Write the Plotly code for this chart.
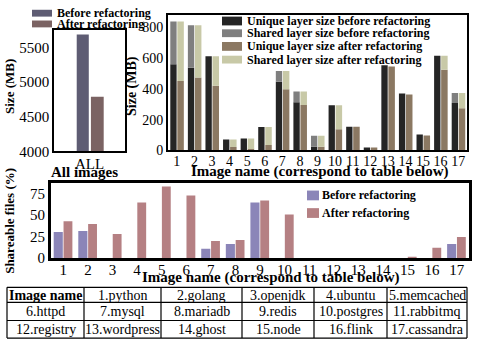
import plotly.graph_objects as go

W, H = 479, 351
FONT = "Liberation Serif, Times New Roman, serif"

# ---------------- data ----------------
all_cat = ["ALL"]
all_before = [5690]
all_after = [4790]

images = list(range(1, 18))
uniq_before = [559, 536, 610, 72, 78, 152, 445, 312, 25, 293, 154, 19, 553, 369, 103, 614, 308]
shared_before = [276, 276, 0, 0, 0, 0, 70, 70, 70, 0, 0, 0, 0, 0, 0, 0, 65]
uniq_after = [451, 473, 420, 23, 10, 36, 397, 295, 25, 137, 154, 19, 544, 363, 97, 523, 274]
shared_after = [384, 339, 190, 49, 68, 116, 118, 87, 70, 156, 0, 0, 0, 0, 0, 91, 99]

share_before = [30.5, 31.5, 0, 0, 0, 0, 10.8, 16.5, 65, 0, 0, 0, 0, 0, 0, 0, 16.5]
share_after = [43, 39.6, 28, 65, 83.5, 73, 20, 21, 67.3, 51, 0, 0, 0, 0, 0.8, 12, 24.6]

table_rows = [
    ["<b>Image name</b>", "1.python", "2.golang", "3.openjdk", "4.ubuntu", "5.memcached"],
    ["6.httpd", "7.mysql", "8.mariadb", "9.redis", "10.postgres", "11.rabbitmq"],
    ["12.registry", "13.wordpress", "14.ghost", "15.node", "16.flink", "17.cassandra"],
]

# ---------------- colours ----------------
C_ALL_B = "#5e5c73"
C_ALL_A = "#7b6363"
C_UB = "#252525"
C_SB = "#7f7f7f"
C_UA = "#8b7862"
C_SA = "#c8c9a7"
C_PB = "#8b85b8"
C_PA = "#b58083"


def px(x):
    return x / W


def py(y):
    return 1 - y / H


fig = go.Figure()

# top-left
fig.add_trace(go.Bar(x=all_cat, y=all_before, xaxis="x", yaxis="y", marker_color=C_ALL_B,
                     width=0.17, offset=-0.18, marker_line_width=0))
fig.add_trace(go.Bar(x=all_cat, y=all_after, xaxis="x", yaxis="y", marker_color=C_ALL_A,
                     width=0.18, offset=0.02, marker_line_width=0))

# top-right
fig.add_trace(go.Bar(x=images, y=uniq_before, xaxis="x2", yaxis="y2", marker_color=C_UB,
                     width=0.36, offset=-0.37, marker_line_width=0))
fig.add_trace(go.Bar(x=images, y=shared_before, base=uniq_before, xaxis="x2", yaxis="y2",
                     marker_color=C_SB, width=0.36, offset=-0.37, marker_line_width=0))
fig.add_trace(go.Bar(x=images, y=uniq_after, xaxis="x2", yaxis="y2", marker_color=C_UA,
                     width=0.37, offset=0.03, marker_line_width=0))
fig.add_trace(go.Bar(x=images, y=shared_after, base=uniq_after, xaxis="x2", yaxis="y2",
                     marker_color=C_SA, width=0.37, offset=0.03, marker_line_width=0))

# bottom
fig.add_trace(go.Bar(x=images, y=share_before, xaxis="x3", yaxis="y3", marker_color=C_PB,
                     width=0.37, offset=-0.39, marker_line_width=0))
fig.add_trace(go.Bar(x=images, y=share_after, xaxis="x3", yaxis="y3", marker_color=C_PA,
                     width=0.36, offset=0.01, marker_line_width=0))

tickfont = dict(family=FONT, size=15, color="black")
common = dict(showgrid=False, zeroline=False, showline=True, mirror=True, linecolor="black",
              ticks="", fixedrange=True)

fig.update_layout(
    width=W, height=H, margin=dict(l=0, r=0, t=0, b=0),
    paper_bgcolor="white", plot_bgcolor="white",
    barmode="overlay", showlegend=False,
    font=dict(family=FONT, color="black"),
    xaxis=dict(domain=[px(54), px(125)], range=[-0.5, 0.5], type="category",
               tickfont=tickfont, linewidth=1.5, anchor="y", ticklabelstandoff=-2, **common),
    yaxis=dict(domain=[py(155), py(31)], range=[4000, 5750], tickvals=[4000, 4500, 5000, 5500],
               tickfont=tickfont, linewidth=1.5, anchor="x", **common),
    xaxis2=dict(domain=[px(168), px(467)], range=[0.5, 17.5], tickvals=images,
                tickfont=dict(family=FONT, size=14, color="black"), linewidth=2, anchor="y2",
                ticklabelstandoff=-3, **common),
    yaxis2=dict(domain=[py(154), py(15)], range=[0, 880], tickvals=[0, 200, 400, 600, 800],
                tickfont=dict(family=FONT, size=14, color="black"), linewidth=2, anchor="x2", **common),
    xaxis3=dict(domain=[px(51), px(469)], range=[0.5, 17.5], tickvals=images,
                tickfont=tickfont, linewidth=3, anchor="y3", ticklabelstandoff=-4, **common),
    yaxis3=dict(domain=[py(264), py(187)], range=[0, 88], tickvals=[0, 25, 50, 75],
                tickfont=tickfont, linewidth=3, anchor="x3", **common),
)

annotations = []
shapes = []


def text(x, y, s, size, angle=0, xanchor="center"):
    annotations.append(dict(x=px(x), y=py(y), xref="paper", yref="paper", text=s, showarrow=False,
                            textangle=angle, xanchor=xanchor, yanchor="middle",
                            font=dict(family=FONT, size=size, color="black")))


def swatch(x0, x1, y0, y1, color):
    shapes.append(dict(type="rect", xref="paper", yref="paper", x0=px(x0), x1=px(x1),
                       y0=py(y1), y1=py(y0), fillcolor=color, line=dict(width=0)))


def hline(x0, x1, y, w=1, color="black"):
    shapes.append(dict(type="line", xref="paper", yref="paper", x0=px(x0), x1=px(x1),
                       y0=py(y), y1=py(y), line=dict(color=color, width=w)))


def vline(x, y0, y1, w=1):
    shapes.append(dict(type="line", xref="paper", yref="paper", x0=px(x), x1=px(x),
                       y0=py(y0), y1=py(y1), line=dict(color="black", width=w)))


# axis titles
text(10, 89, "<b>Size (MB)</b>", 13, angle=-90)
text(132, 88, "<b>Size (MB)</b>", 14, angle=-90)
text(84, 176, "<b>All images</b>", 15)
text(320, 176, "<b>Image name (correspond to table below)</b>", 15)
text(10, 226, "<b>Shareable files (%)</b>", 13, angle=-90)
text(271, 283.5, "<b>Image name (correspond to table below)</b>", 15)

# legends
swatch(32, 52, 10, 17, C_ALL_B)
swatch(32, 52, 21, 28, C_ALL_A)
text(55, 13.5, "<b>Before refactoring</b>", 12, xanchor="left")
text(55, 24.5, "<b>After refactoring</b>", 12, xanchor="left")

rows_tr = [(17, 26, C_UB, "Unique layer size before refactoring"),
           (30, 38, C_SB, "Shared layer size before refactoring"),
           (43, 52, C_UA, "Unique layer size after refactoring"),
           (57, 65, C_SA, "Shared layer size after refactoring")]
for y0, y1, c, s in rows_tr:
    swatch(222, 242, y0, y1, c)
    text(245, (y0 + y1) / 2, "<b>" + s + "</b>", 12, xanchor="left")

swatch(307, 319, 195, 205, C_PB)
swatch(307, 319, 213, 223, C_PA)
text(320, 200, "<b>Before refactoring</b>", 12, xanchor="left")
text(320, 218, "<b>After refactoring</b>", 12, xanchor="left")

# table (grid + text)
col_edges = [7, 84, 161, 242, 314, 387, 467]
row_edges = [294, 309.5, 328, 346]
for yv in row_edges:
    hline(col_edges[0], col_edges[-1], yv, 1.2)
for xv in col_edges:
    vline(xv, row_edges[0], row_edges[-1], 1.2)
for r, row in enumerate(table_rows):
    yc = (row_edges[r] + row_edges[r + 1]) / 2 + 0.5
    for c, s in enumerate(row):
        xc = (col_edges[c] + col_edges[c + 1]) / 2
        text(xc, yc, s, 14)

fig.update_layout(annotations=annotations, shapes=shapes)
fig.write_html("out.html")
